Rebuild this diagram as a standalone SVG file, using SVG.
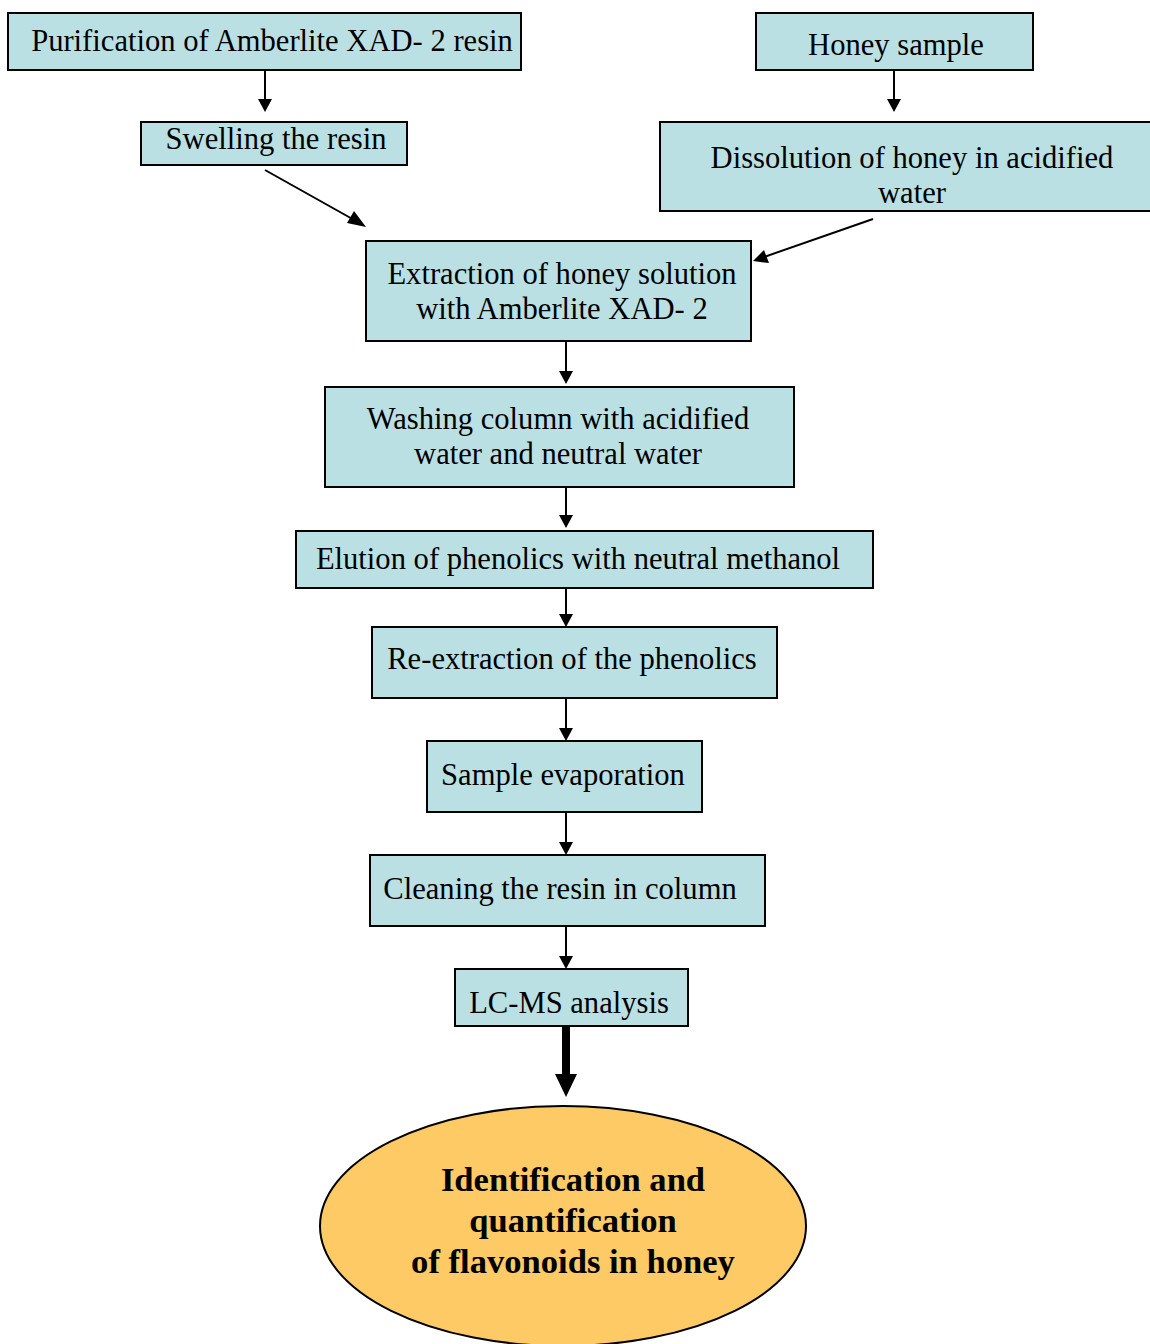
<svg xmlns="http://www.w3.org/2000/svg" width="1150" height="1344" viewBox="0 0 1150 1344">
<style>
.box{fill:#BAE0E3;stroke:#000;stroke-width:2}
.t{font-size:30.6px;fill:#000;text-anchor:middle}
.b{font-size:34.6px;font-weight:bold;fill:#000;text-anchor:middle}
.c{stroke:#000;stroke-width:2;fill:none}
</style>
<rect width="1150" height="1344" fill="#fff"/>
<g id="connectors">
<line class="c" x1="265" y1="70" x2="265" y2="100"/>
<path d="M258,99 L272,99 L265,112 z"/>
<line class="c" x1="265" y1="170" x2="356" y2="221"/>
<path d="M366,227 L347,223 L354,211 z"/>
<line class="c" x1="894" y1="70" x2="894" y2="100"/>
<path d="M887,99 L901,99 L894,112 z"/>
<line class="c" x1="873" y1="219" x2="764" y2="257"/>
<path d="M753,261 L764,250 L769,263 z"/>
<line class="c" x1="566" y1="341" x2="566" y2="372"/>
<path d="M559,371 L573,371 L566,384 z"/>
<line class="c" x1="566" y1="487" x2="566" y2="516"/>
<path d="M559,515 L573,515 L566,528 z"/>
<line class="c" x1="566" y1="588" x2="566" y2="615"/>
<path d="M559,614 L573,614 L566,627 z"/>
<line class="c" x1="566" y1="698" x2="566" y2="729"/>
<path d="M559,728 L573,728 L566,741 z"/>
<line class="c" x1="566" y1="812" x2="566" y2="843"/>
<path d="M559,842 L573,842 L566,855 z"/>
<line class="c" x1="566" y1="926" x2="566" y2="957"/>
<path d="M559,956 L573,956 L566,969 z"/>
<line x1="566" y1="1026" x2="566" y2="1076" stroke="#000" stroke-width="8"/>
<path d="M555,1074 L577,1074 L566,1097 z"/>
</g>
<g font-family="'Liberation Serif', 'Times New Roman', serif">
<g id="n1"><rect class="box" x="8" y="13" width="513" height="57"/><text class="t" x="272" y="51">Purification of Amberlite XAD- 2 resin</text></g>
<g id="n2"><rect class="box" x="141" y="122" width="266" height="43"/><text class="t" x="276" y="149">Swelling the resin</text></g>
<g id="n3"><rect class="box" x="756" y="13" width="277" height="57"/><text class="t" x="896" y="55">Honey sample</text></g>
<g id="n4"><rect class="box" x="660" y="122" width="492" height="89"/><text class="t" x="912" y="168">Dissolution of honey in acidified</text><text class="t" x="912" y="203">water</text></g>
<g id="n5"><rect class="box" x="366" y="241" width="385" height="100"/><text class="t" x="562" y="284">Extraction of honey solution</text><text class="t" x="562" y="319">with Amberlite XAD- 2</text></g>
<g id="n6"><rect class="box" x="325" y="387" width="469" height="100"/><text class="t" x="558" y="429">Washing column with acidified</text><text class="t" x="558" y="464">water and neutral water</text></g>
<g id="n7"><rect class="box" x="296" y="531" width="577" height="57"/><text class="t" x="578" y="569">Elution of phenolics with neutral methanol</text></g>
<g id="n8"><rect class="box" x="372" y="627" width="405" height="71"/><text class="t" x="572" y="669">Re-extraction of the phenolics</text></g>
<g id="n9"><rect class="box" x="427" y="741" width="275" height="71"/><text class="t" x="563" y="785">Sample evaporation</text></g>
<g id="n10"><rect class="box" x="370" y="855" width="395" height="71"/><text class="t" x="560" y="899">Cleaning the resin in column</text></g>
<g id="n11"><rect class="box" x="455" y="969" width="233" height="57"/><text class="t" x="569" y="1013">LC-MS analysis</text></g>
<g id="n12"><ellipse cx="563" cy="1226" rx="243" ry="120" fill="#FDCA65" stroke="#000" stroke-width="2"/><text class="b" x="573" y="1191">Identification and</text><text class="b" x="573" y="1232">quantification</text><text class="b" x="573" y="1273">of flavonoids in honey</text></g>
</g>
</svg>
